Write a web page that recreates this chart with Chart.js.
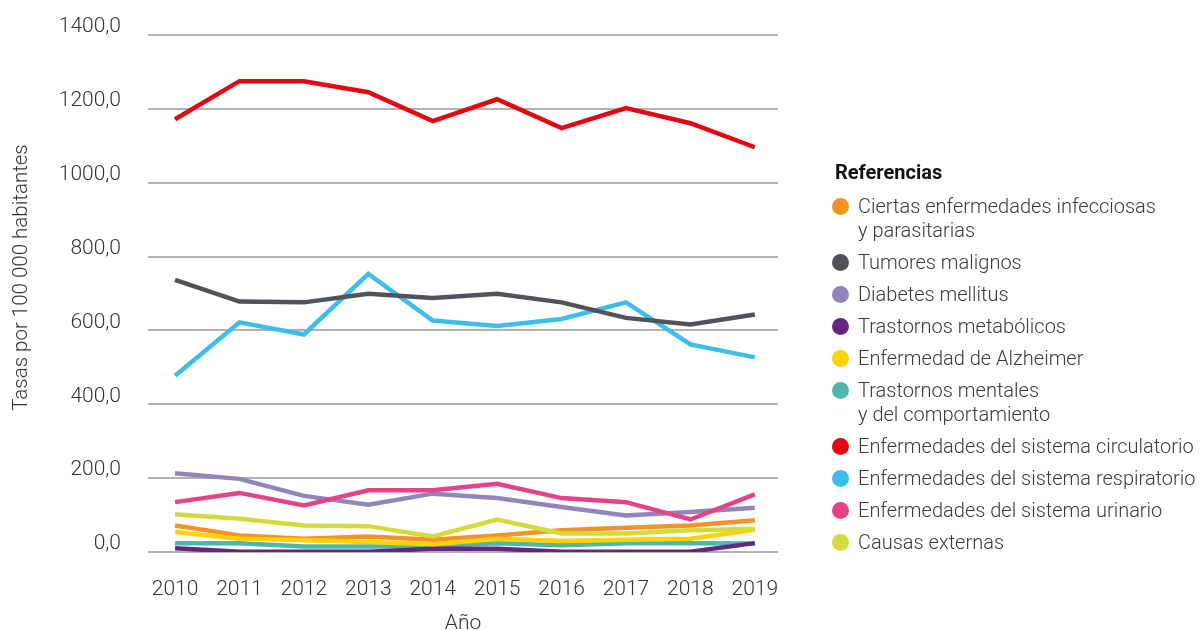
<!DOCTYPE html>
<html>
<head>
<meta charset="utf-8">
<script src="https://cdn.jsdelivr.net/npm/chart.js@4.4.1/dist/chart.umd.min.js"></script>
<style>
  html, body { margin: 0; padding: 0; background: #ffffff; }
  #wrap { position: relative; width: 1200px; height: 630px; overflow: hidden; }
  #c { position: absolute; left: 0; top: 0; }
  #legend { position: absolute; left: 832px; top: 160px; font-family: Roboto, "Open Sans", sans-serif; color: #3a3a3a; }
  #legend .title { font-weight: 700; color: #111; font-size: 20px; line-height: 24px; margin-left: 3px; margin-bottom: 10px; }
  #legend .item { position: relative; padding-left: 26px; font-size: 20px; line-height: 24px; margin-bottom: 8px; font-weight: 300; white-space: nowrap; }
  #legend .dot { position: absolute; left: 0; top: 4px; width: 17px; height: 17px; border-radius: 50%; }
</style>
</head>
<body>
<div id="wrap">
  <canvas id="c" width="1200" height="630"></canvas>
  <div id="legend"></div>
</div>
<script>
const years = [2010, 2011, 2012, 2013, 2014, 2015, 2016, 2017, 2018, 2019];
const yTicks = [0, 200, 400, 600, 800, 1000, 1200, 1400];
const legendTitle = "Referencias";
const yTitle = "Tasas por 100 000 habitantes";
const xTitle = "Año";

const seriesNames = [
  ["Ciertas enfermedades infecciosas", "y parasitarias"],
  ["Tumores malignos"],
  ["Diabetes mellitus"],
  ["Trastornos metabólicos"],
  ["Enfermedad de Alzheimer"],
  ["Trastornos mentales", "y del comportamiento"],
  ["Enfermedades del sistema circulatorio"],
  ["Enfermedades del sistema respiratorio"],
  ["Enfermedades del sistema urinario"],
  ["Causas externas"]
];
const seriesColors = ["#F39325", "#50535C", "#9385BC", "#64267F", "#FFD200", "#4EB7AC", "#E30613", "#3DBDEB", "#E6428A", "#D4DA3C"];

const infecciosas = [72, 45, 36, 42, 33, 45, 59, 66, 72, 86];
const tumores = [737, 678, 676, 699, 688, 699, 676, 634, 616, 643];
const diabetes = [213, 198, 152, 128, 158, 146, 122, 99, 108, 120];
const metabolicos = [10, 1, 1, 1, 9, 9, 1, 1, 1, 24];
const alzheimer = [54, 36, 32, 27, 21, 36, 30, 33, 36, 60];
const mentales = [24, 24, 15, 15, 16, 24, 18, 24, 24, 23];
const circulatorio = [1172, 1275, 1275, 1245, 1167, 1226, 1148, 1202, 1161, 1096];
const respiratorio = [477, 622, 589, 753, 627, 612, 631, 676, 562, 527];
const urinario = [135, 160, 126, 167, 167, 185, 146, 135, 88, 156];
const externas = [102, 90, 72, 70, 42, 88, 50, 50, 59, 63];

const seriesValues = [infecciosas, tumores, diabetes, metabolicos, alzheimer, mentales, circulatorio, respiratorio, urinario, externas];

const datasets = seriesValues.map((vals, i) => ({
  label: seriesNames[i].join(" "),
  data: vals.map((v, j) => ({ x: years[j], y: v })),
  borderColor: seriesColors[i],
  backgroundColor: seriesColors[i],
  borderWidth: 4.5,
  pointRadius: 0,
  tension: 0,
  fill: false,
  borderJoinStyle: "miter"
}));

const drawOrder = [5, 3, 6, 7, 4, 9, 1, 8, 2, 0];
datasets.forEach((d, i) => { d.order = drawOrder[i]; });

const fontFamily = "Roboto, 'Open Sans', sans-serif";
const tickColor = "#333333";
const tickFont = { family: fontFamily, size: 21, weight: 300 };

const yTitlePlugin = {
  id: "yTitle",
  afterDraw(chart) {
    const { ctx, chartArea } = chart;
    ctx.save();
    ctx.fillStyle = tickColor;
    ctx.font = "300 20.5px " + fontFamily;
    ctx.textAlign = "center";
    ctx.textBaseline = "middle";
    ctx.translate(22, (chartArea.top + chartArea.bottom) / 2 - 16);
    ctx.rotate(-Math.PI / 2);
    ctx.fillText(yTitle, 0, 0);
    ctx.restore();
  }
};

new Chart(document.getElementById("c"), {
  type: "line",
  data: { datasets },
  plugins: [yTitlePlugin],
  options: {
    responsive: false,
    animation: false,
    events: [],
    layout: { padding: { left: 9, top: 35, right: 422, bottom: 0 } },
    plugins: { legend: { display: false }, tooltip: { enabled: false } },
    scales: {
      x: {
        type: "linear",
        min: 2009.58,
        max: 2019.36,
        grid: { display: false },
        border: { display: false },
        afterBuildTicks: s => { s.ticks = years.map(v => ({ value: v })); },
        afterFit: s => { s.height = 78; },
        ticks: {
          autoSkip: false,
          maxRotation: 0,
          padding: 17,
          color: tickColor,
          font: tickFont,
          callback: v => String(v)
        },
        title: {
          display: true,
          text: xTitle,
          color: tickColor,
          font: { family: fontFamily, size: 21, weight: 300, lineHeight: 0.6 },
          padding: { top: 4, bottom: 0 }
        }
      },
      y: {
        min: 0,
        max: 1400,
        afterBuildTicks: s => { s.ticks = yTicks.map(v => ({ value: v })); },
        afterFit: s => { s.width = 139; s.paddingTop = 0; s.paddingBottom = 0; },
        grid: { color: "#B2B2B2", lineWidth: 2, drawTicks: false },
        border: { display: false },
        ticks: {
          padding: 27,
          labelOffset: -8,
          color: tickColor,
          font: tickFont,
          callback: v => v.toFixed(1).replace(".", ",")
        },
        title: { display: false }
      }
    }
  }
});

const lg = document.getElementById("legend");
const t = document.createElement("div");
t.className = "title";
t.textContent = legendTitle;
lg.appendChild(t);
seriesNames.forEach((lines, i) => {
  const it = document.createElement("div");
  it.className = "item";
  const dot = document.createElement("span");
  dot.className = "dot";
  dot.style.background = seriesColors[i];
  it.appendChild(dot);
  lines.forEach((ln, k) => {
    if (k > 0) it.appendChild(document.createElement("br"));
    it.appendChild(document.createTextNode(ln));
  });
  lg.appendChild(it);
});
</script>
</body>
</html>
